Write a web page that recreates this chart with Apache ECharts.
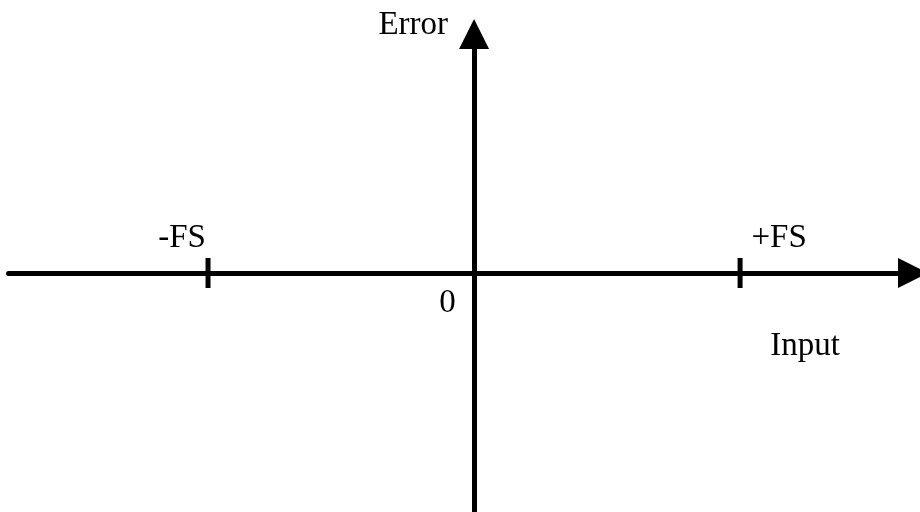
<!DOCTYPE html>
<html>
<head>
<meta charset="utf-8">
<script src="https://cdn.jsdelivr.net/npm/echarts@6/dist/echarts.min.js"></script>
<style>
html, body { margin: 0; padding: 0; background: #fff; }
#main { width: 920px; height: 512px; }
</style>
</head>
<body>
<div id="main"></div>
<script>
// full-scale points on the input axis
var tickValues = [-1, 1];
var tickLabels = ['-FS', '+FS'];
var originLabel = '0';
var xName = 'Input';
var yName = 'Error';

var font = 'Liberation Serif';
var myChart = echarts.init(document.getElementById('main'));

var tickData = tickValues.map(function (v, i) {
    return {
        value: [v, 0],
        label: {
            show: true,
            formatter: tickLabels[i],
            position: 'inside',
            offset: i === 0 ? [-26, -35] : [39, -35]
        }
    };
});

option = {
    animation: false,
    grid: { left: 8.5, right: 7, top: 34, bottom: -3 },
    xAxis: {
        type: 'value',
        min: -1.75,
        max: 1.65,
        name: xName,
        nameLocation: 'end',
        nameGap: -108,
        nameTextStyle: {
            fontFamily: font, fontSize: 33, color: '#000',
            align: 'center', verticalAlign: 'top',
            lineHeight: 146
        },
        axisLine: {
            onZero: true,
            symbol: ['none', 'triangle'],
            symbolSize: [30, 30],
            lineStyle: { color: '#000', width: 5 }
        },
        axisTick: { show: false },
        axisLabel: { show: false },
        splitLine: { show: false }
    },
    yAxis: {
        type: 'value',
        min: -1,
        max: 1,
        name: yName,
        nameLocation: 'end',
        nameGap: 9,
        nameTextStyle: {
            fontFamily: font, fontSize: 33, color: '#000',
            align: 'right', verticalAlign: 'middle',
            padding: [0, 26, 0, 0]
        },
        axisLine: {
            onZero: true,
            symbol: ['none', 'triangle'],
            symbolSize: [30, 30],
            lineStyle: { color: '#000', width: 5 }
        },
        axisTick: { show: false },
        axisLabel: { show: false },
        splitLine: { show: false }
    },
    series: [
        {
            type: 'scatter',
            symbol: 'rect',
            symbolSize: [5, 30],
            itemStyle: { color: '#000', opacity: 1 },
            label: { fontFamily: font, fontSize: 33, color: '#000' },
            data: tickData,
            z: 5
        },
        {
            type: 'scatter',
            symbolSize: 0,
            itemStyle: { opacity: 1 },
            label: {
                show: true,
                formatter: originLabel,
                position: 'inside',
                offset: [-26.5, 30],
                fontFamily: font, fontSize: 33, color: '#000'
            },
            data: [[0, 0]]
        }
    ]
};
myChart.setOption(option);
</script>
</body>
</html>
